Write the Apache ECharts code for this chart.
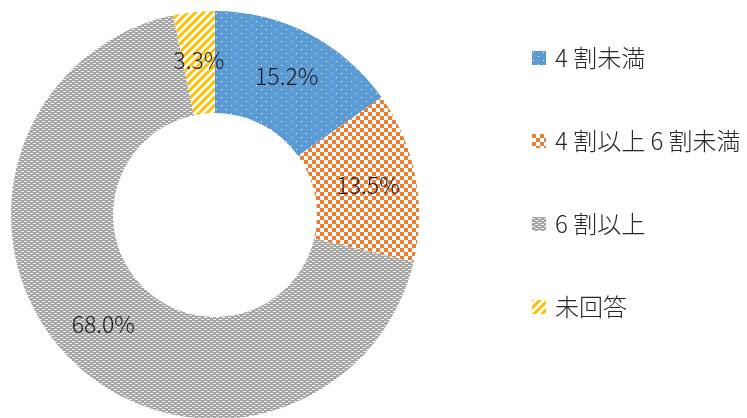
<!DOCTYPE html>
<html>
<head>
<meta charset="utf-8">
<script src="https://cdn.jsdelivr.net/npm/echarts@6/dist/echarts.min.js"></script>
<style>
  html, body { margin: 0; padding: 0; background: #fff; }
  #chart { width: 747px; height: 418px; }
</style>
</head>
<body>
<div id="chart"></div>
<script>
const categories = ["4 割未満", "4 割以上 6 割未満", "6 割以上", "未回答"];
const values = [15.2, 13.5, 68.0, 3.3];

// small tile patterns, drawn once on a canvas each
function makePattern(w, h, draw) {
  const c = document.createElement("canvas");
  c.width = w;
  c.height = h;
  draw(c.getContext("2d"));
  return { image: c, repeat: "repeat" };
}

const dots = makePattern(10, 8, (ctx) => {
  ctx.fillStyle = "#5B9BD5";
  ctx.fillRect(0, 0, 10, 8);
  ctx.fillStyle = "#fff";
  ctx.fillRect(1, 1, 1, 1);
  ctx.fillRect(6, 5, 1, 1);
});
const checker = makePattern(8, 8, (ctx) => {
  ctx.fillStyle = "#fff";
  ctx.fillRect(0, 0, 8, 8);
  ctx.fillStyle = "#ED7D31";
  ctx.fillRect(0, 0, 4, 4);
  ctx.fillRect(4, 4, 4, 4);
});
const dashes = makePattern(6, 4, (ctx) => {
  ctx.fillStyle = "#A5A5A5";
  ctx.fillRect(0, 0, 6, 4);
  ctx.fillStyle = "#f4f4f4";
  ctx.fillRect(0, 1, 3, 1);
  ctx.fillRect(3, 3, 3, 1);
});
const stripes = makePattern(8, 8, (ctx) => {
  ctx.fillStyle = "#fff";
  ctx.fillRect(0, 0, 8, 8);
  ctx.strokeStyle = "#FFC000";
  ctx.lineWidth = 3;
  ctx.beginPath();
  ctx.moveTo(-2, 10);
  ctx.lineTo(10, -2);
  ctx.moveTo(-2, 2);
  ctx.lineTo(2, -2);
  ctx.moveTo(6, 10);
  ctx.lineTo(10, 6);
  ctx.stroke();
});
const fills = [dots, checker, dashes, stripes];

const chart = echarts.init(document.getElementById("chart"));
chart.setOption({
  animation: false,
  textStyle: { fontFamily: "Noto Sans CJK JP" },
  legend: {
    orient: "vertical",
    left: 527,
    top: 41,
    itemWidth: 14,
    itemHeight: 14,
    itemGap: 59,
    icon: "rect",
    textStyle: {
      fontSize: 24,
      lineHeight: 24,
      fontWeight: 300,
      color: "#262626",
      fontFamily: "Noto Sans CJK JP",
      padding: [0, 0, 0, 4],
    },
    data: categories,
  },
  series: [
    {
      type: "pie",
      center: [215, 215],
      radius: [102, 204],
      startAngle: 90,
      clockwise: true,
      silent: true,
      label: {
        show: true,
        position: "inside",
        fontSize: 23,
        fontWeight: 300,
        color: "#1a1a1a",
        fontFamily: "Noto Sans CJK JP",
        formatter: (p) => p.value.toFixed(1) + "%",
      },
      labelLine: { show: false },
      emphasis: { disabled: true },
      data: categories.map((name, i) => ({
        name: name,
        value: values[i],
        itemStyle: { color: fills[i] },
      })),
    },
  ],
});
</script>
</body>
</html>
